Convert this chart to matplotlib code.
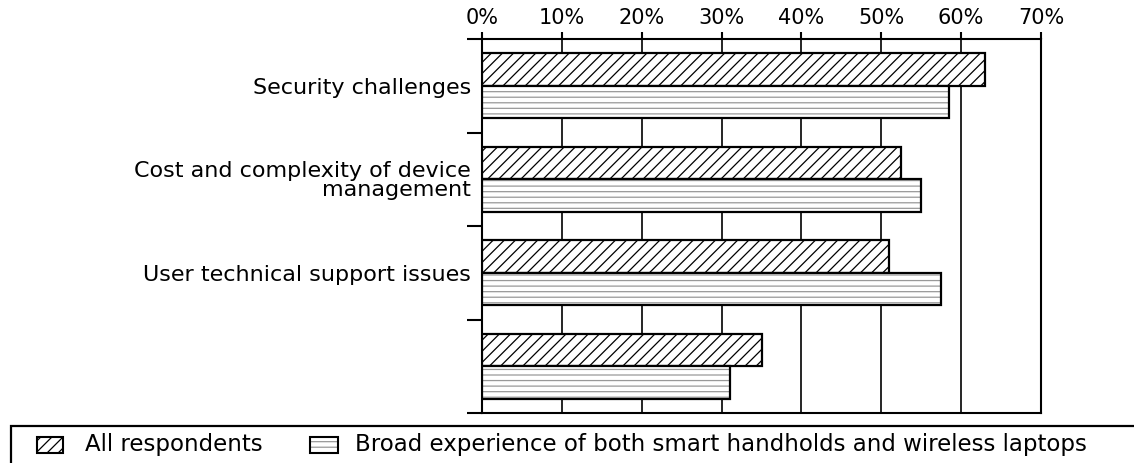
import matplotlib

matplotlib.use("Agg")
import matplotlib.pyplot as plt
from matplotlib.patches import Rectangle

categories = [
    "Security challenges",
    "Cost and complexity of device\nmanagement",
    "User technical support issues",
    "",
]
all_respondents = [63, 52.5, 51, 35]
broad_experience = [58.5, 55, 57.5, 31]
x_ticks = [0, 10, 20, 30, 40, 50, 60, 70]
series_labels = [
    "All respondents",
    "Broad experience of both smart handholds and wireless laptops",
]

plt.rcParams["font.family"] = ["DejaVu Sans"]
plt.rcParams["hatch.linewidth"] = 0.9

W, H = 1134, 463
fig = plt.figure(figsize=(W / 100, H / 100), dpi=100)
ax = fig.add_axes([482 / W, 1 - 413 / H, 559 / W, 374 / H])

bar_h = 0.35
centers = [i + 0.5 for i in range(len(categories))]
top_pos = [c - bar_h / 2 for c in centers]
low_pos = [c + bar_h / 2 for c in centers]

# series 1: diagonal hatch, black outline
ax.barh(top_pos, all_respondents, height=bar_h, facecolor="white",
        edgecolor="black", hatch="///", linewidth=1.6, zorder=3)
# series 2: grey horizontal rules, then black outline on top
ax.barh(low_pos, broad_experience, height=bar_h, facecolor="white",
        edgecolor="#999999", hatch="---", linewidth=0, zorder=3)
ax.barh(low_pos, broad_experience, height=bar_h, fill=False,
        edgecolor="black", linewidth=1.6, zorder=4)

ax.set_xlim(0, 70)
ax.set_ylim(4, 0)

ax.xaxis.tick_top()
ax.set_xticks(x_ticks)
ax.set_xticklabels([f"{v}%" for v in x_ticks])
ax.tick_params(axis="x", direction="out", length=5, width=1.5, pad=3,
               labelsize=15)

ax.set_yticks(range(len(categories) + 1))
ax.set_yticklabels([])
ax.tick_params(axis="y", which="major", direction="out", length=11, width=1.5)
ax.set_yticks(centers, minor=True)
ax.set_yticklabels(categories, minor=True, fontsize=16, linespacing=0.92)
ax.tick_params(axis="y", which="minor", length=0, pad=8)

ax.grid(axis="x", color="black", linewidth=1.2)
ax.set_axisbelow(True)
for spine in ax.spines.values():
    spine.set_linewidth(1.5)

# legend strip along the bottom of the figure
fig.add_artist(Rectangle((11 / W, -0.2), 1.2, 0.2 + (463 - 426) / H,
                         transform=fig.transFigure, fill=False,
                         edgecolor="black", linewidth=1.6))
fig.add_artist(Rectangle((37 / W, 10 / H), 26 / W, 16 / H,
                         transform=fig.transFigure, facecolor="white",
                         edgecolor="black", hatch="///", linewidth=1.5))
fig.add_artist(Rectangle((310 / W, 10 / H), 28 / W, 16 / H,
                         transform=fig.transFigure, facecolor="white",
                         edgecolor="#999999", hatch="---", linewidth=0))
fig.add_artist(Rectangle((310 / W, 10 / H), 28 / W, 16 / H,
                         transform=fig.transFigure, fill=False,
                         edgecolor="black", linewidth=1.5))
fig.text(85 / W, 18 / H, series_labels[0], fontsize=16.5, va="center")
fig.text(355 / W, 18 / H, series_labels[1], fontsize=16.5, va="center")

fig.savefig("out.png", dpi=100)
